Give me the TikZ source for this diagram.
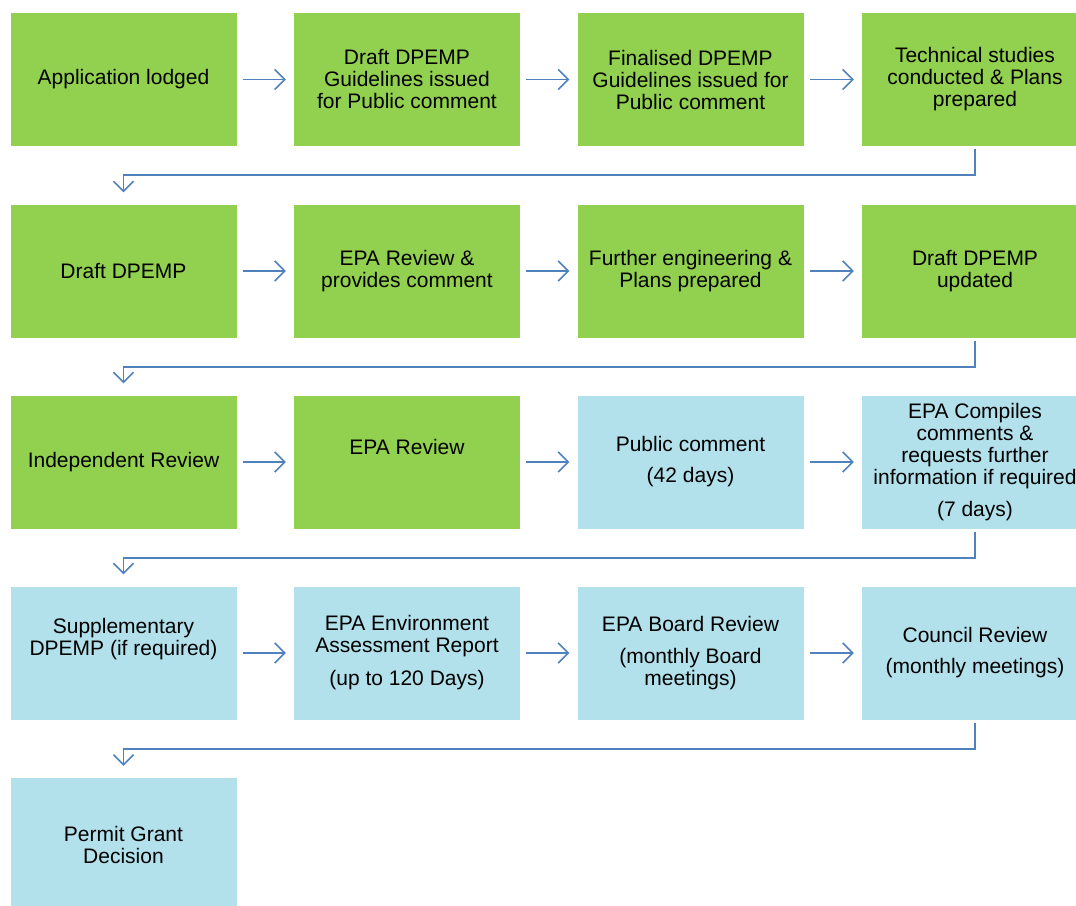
\documentclass[tikz,border=0pt]{standalone}
\usepackage{fontspec}
\setmainfont{Liberation Sans}
\usetikzlibrary{arrows.meta}
\definecolor{boxgreen}{RGB}{146,208,80}
\definecolor{boxblue}{RGB}{178,225,235}
\definecolor{lineblue}{RGB}{79,129,189}
\begin{document}
\begin{tikzpicture}[x=1pt,y=-1pt,
  box/.style={minimum width=226pt, minimum height=133pt, inner sep=0pt, align=center,
    font=\fontsize{21}{22}\selectfont, text=black},
  gbox/.style={box, fill=boxgreen},
  bbox/.style={box, fill=boxblue},
  conn/.style={draw=lineblue, line width=1.6pt, -{Straight Barb[length=10pt,width=20pt,line width=1.6pt]}},
  harr/.style={conn, shorten <=6pt, shorten >=8pt},
  varr/.style={conn, shorten <=3pt, shorten >=12pt}]
\useasboundingbox (0,0) rectangle (1076,905);
% row 1
\node[gbox] (app) at (123.5,79.5) {Application lodged};
\node[gbox] (dg) at (407,79.5) {Draft DPEMP\\Guidelines issued\\for Public comment};
\node[gbox] (fg) at (690.5,79.5) {Finalised DPEMP\\Guidelines issued for\\Public comment};
\node[gbox] (ts) at (975,79.5) {Technical studies\\conducted \& Plans\\prepared};
% row 2
\node[gbox] (dd) at (123.5,271) {Draft DPEMP};
\node[gbox] (er) at (407,271) {EPA Review \&\\provides comment};
\node[gbox] (fe) at (690.5,271) {Further engineering \&\\Plans prepared};
\node[gbox] (du) at (975,271) {Draft DPEMP\\updated};
% row 3
\node[gbox] (ir) at (123.5,462) {Independent Review};
\node[gbox] (epr) at (407,462) {EPA Review\\[9pt]\mbox{}};
\node[bbox] (pc) at (690.5,462) {Public comment\\[9pt](42 days)};
\node[bbox] (ec) at (975,462) {EPA Compiles\\comments \&\\requests further\\information if required\\[10pt](7 days)};
% row 4
\node[bbox] (sd) at (123.5,653) {Supplementary\\DPEMP (if required)\\[11pt]\mbox{}};
\node[bbox] (ea) at (407,653) {EPA Environment\\Assessment Report\\[11pt](up to 120 Days)};
\node[bbox] (eb) at (690.5,653) {EPA Board Review\\[10pt](monthly Board\\meetings)};
\node[bbox] (cr) at (975,653) {Council Review\\[9pt](monthly meetings)};
% row 5
\node[bbox] (pg) at (123.5,844.5) {Permit Grant\\Decision};
% horizontal arrows
\draw[harr] (app) -- (dg);
\draw[harr] (dg) -- (fg);
\draw[harr] (fg) -- (ts);
\draw[harr] (dd) -- (er);
\draw[harr] (er) -- (fe);
\draw[harr] (fe) -- (du);
\draw[harr] (ir) -- (epr);
\draw[harr] (epr) -- (pc);
\draw[harr] (pc) -- (ec);
\draw[harr] (sd) -- (ea);
\draw[harr] (ea) -- (eb);
\draw[harr] (eb) -- (cr);
% row-to-row elbows
\draw[varr] (ts.south) -- ++(0,29) -| (dd.north);
\draw[varr] (du.south) -- ++(0,29) -| (ir.north);
\draw[varr] (ec.south) -- ++(0,29) -| (sd.north);
\draw[varr] (cr.south) -- ++(0,29) -| (pg.north);
\end{tikzpicture}
\end{document}
